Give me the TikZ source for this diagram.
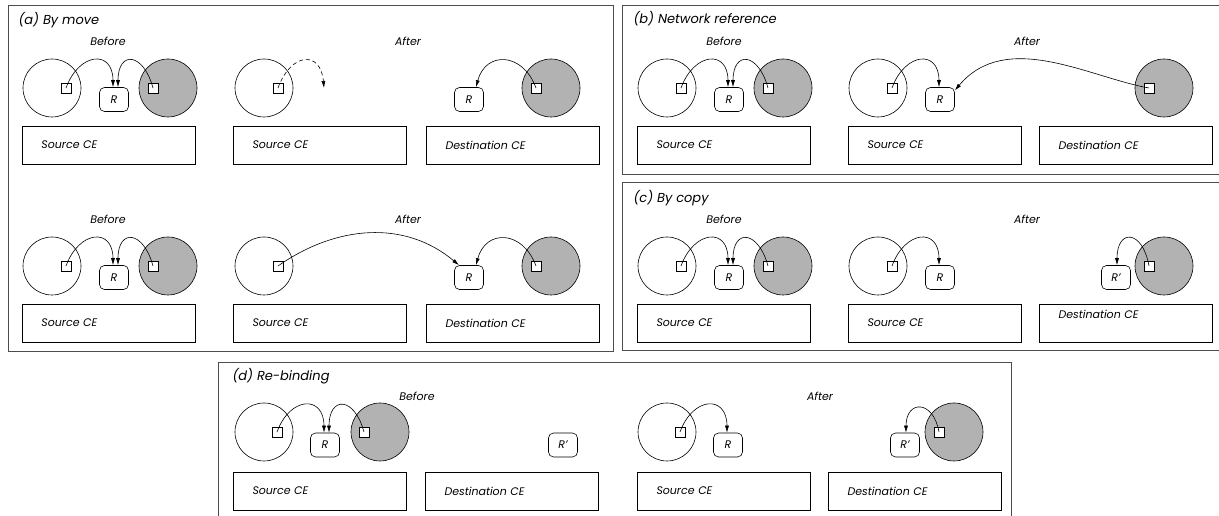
\documentclass[tikz,border=0pt]{standalone}
\usepackage{fontspec}
\setmainfont{Poppins}
\usepackage{tikz}
\usetikzlibrary{shapes,positioning,arrows.meta}

\tikzset{
  ce/.style={circle,draw,line width=0.6pt,minimum size=58pt,inner sep=0pt},
  ceg/.style={ce,fill=black!30},
  port/.style={rectangle,draw,fill=white,line width=0.6pt,minimum size=10pt,inner sep=0pt},
  res/.style={rectangle,rounded corners=5pt,draw,line width=0.6pt,minimum width=29pt,minimum height=24pt,inner sep=0pt},
  cebox/.style={rectangle,draw,line width=0.6pt,text width=135pt,inner xsep=19pt,minimum height=38pt,align=left},
  frame/.style={draw=black!70,line width=0.8pt},
  ref/.style={-{Latex[length=7pt,width=4pt]},line width=0.6pt},
  title/.style={anchor=west,font=\itshape\fontsize{13}{15}\selectfont},
}

\begin{document}
\begin{tikzpicture}[x=1pt,y=1pt,on grid,node distance=14pt,
  every node/.style={font=\itshape\fontsize{11}{13}\selectfont}]
\useasboundingbox (0,0) rectangle (1219,516);

% (a) by move
\draw[frame] (8,165) rectangle (613,511);
\node[title] (ta) at (15,496) {(a) By move};
% first row, before
\node[ce] (a1s) at (52,428) {};
\node[port,right=of a1s] (a1sp) {};
\node[res,below right=11.5pt and 62pt of a1s] (a1r) {R};
\node[ceg,right=116pt of a1s] (a1d) {};
\node[port,left=15pt of a1d] (a1dp) {};
\node[cebox,below right=57pt and 57pt of a1s] (a1b) {Source CE};
\node[above right=47pt and 56pt of a1s] (a1l) {Before};
% first row, after
\node[ce] (a2s) at (264,428) {};
\node[port,right=of a2s] (a2sp) {};
\coordinate[right=60pt of a2s] (a2x);
\node[cebox,below right=57pt and 56pt of a2s] (a2b) {Source CE};
\node[ceg] (a2d) at (551,428) {};
\node[port,left=15pt of a2d] (a2dp) {};
\node[res,below left=11.5pt and 82pt of a2d] (a2r) {R};
\node[cebox,below left=57pt and 38pt of a2d] (a2c) {Destination CE};
\node[above right=47pt and 144pt of a2s] (a2l) {After};
% second row, before
\node[ce] (a3s) at (52,250) {};
\node[port,right=of a3s] (a3sp) {};
\node[res,below right=11.5pt and 62pt of a3s] (a3r) {R};
\node[ceg,right=116pt of a3s] (a3d) {};
\node[port,left=15pt of a3d] (a3dp) {};
\node[cebox,below right=57pt and 57pt of a3s] (a3b) {Source CE};
\node[above right=47pt and 56pt of a3s] (a3l) {Before};
% second row, after
\node[ce] (a4s) at (264,250) {};
\node[port,right=of a4s] (a4sp) {};
\node[cebox,below right=57pt and 56pt of a4s] (a4b) {Source CE};
\node[ceg] (a4d) at (551,250) {};
\node[port,left=15pt of a4d] (a4dp) {};
\node[res,below left=11.5pt and 82pt of a4d] (a4r) {R};
\node[cebox,below left=57pt and 38pt of a4d] (a4c) {Destination CE};
\node[above right=47pt and 144pt of a4s] (a4l) {After};

\draw[ref] (a1sp.center) to[out=70,in=90,distance=38pt] ([xshift=-1pt]a1r.north);
\draw[ref] (a1dp.center) to[out=105,in=90,distance=37pt] ([xshift=4pt]a1r.north);
\draw[ref,dash pattern=on 4pt off 3pt] (a2sp.center) to[out=70,in=95,distance=38pt] (a2x);
\draw[ref] (a2dp.center) to[out=110,in=75,distance=38pt] ([xshift=7pt]a2r.north);
\draw[ref] (a3sp.center) to[out=70,in=90,distance=38pt] ([xshift=-1pt]a3r.north);
\draw[ref] (a3dp.center) to[out=105,in=90,distance=37pt] ([xshift=4pt]a3r.north);
\draw[ref] (a4sp.center) to[out=35,in=140,distance=71pt] ([xshift=-10pt]a4r.north);
\draw[ref] (a4dp.center) to[out=110,in=75,distance=38pt] ([xshift=7pt]a4r.north);

% (b) network reference
\draw[frame] (622,342) rectangle (1230,511);
\node[title] (tb) at (630,497) {(b) Network reference};
\node[ce] (b1s) at (667,428) {};
\node[port,right=of b1s] (b1sp) {};
\node[res,below right=11.5pt and 62pt of b1s] (b1r) {R};
\node[ceg,right=116pt of b1s] (b1d) {};
\node[port,left=15pt of b1d] (b1dp) {};
\node[cebox,below right=57pt and 57pt of b1s] (b1b) {Source CE};
\node[above right=47pt and 57pt of b1s] (b1l) {Before};
\node[ce] (b2s) at (878,428) {};
\node[port,right=of b2s] (b2sp) {};
\node[res,below right=11.5pt and 62pt of b2s] (b2r) {R};
\node[cebox,below right=57pt and 57pt of b2s] (b2b) {Source CE};
\node[ceg] (b2d) at (1164,428) {};
\node[port,left=15pt of b2d] (b2dp) {};
\node[cebox,below left=57pt and 38pt of b2d] (b2c) {Destination CE};
\node[above right=47pt and 149pt of b2s] (b2l) {After};

\draw[ref] (b1sp.center) to[out=70,in=90,distance=38pt] ([xshift=-1pt]b1r.north);
\draw[ref] (b1dp.center) to[out=105,in=90,distance=37pt] ([xshift=4pt]b1r.north);
\draw[ref] (b2sp.center) to[out=70,in=90,distance=38pt] ([xshift=-1pt]b2r.north);
\draw[ref] (b2dp.center) to[out=170,in=50,out distance=60pt,in distance=80pt] ([yshift=9pt]b2r.east);

% (c) by copy
\draw[frame] (622,166) rectangle (1230,334);
\node[title] (tc) at (630,318) {(c) By copy};
\node[ce] (c1s) at (667,250) {};
\node[port,right=of c1s] (c1sp) {};
\node[res,below right=11.5pt and 62pt of c1s] (c1r) {R};
\node[ceg,right=116pt of c1s] (c1d) {};
\node[port,left=15pt of c1d] (c1dp) {};
\node[cebox,below right=57pt and 57pt of c1s] (c1b) {Source CE};
\node[above right=47pt and 57pt of c1s] (c1l) {Before};
\node[ce] (c2s) at (878,250) {};
\node[port,right=of c2s] (c2sp) {};
\node[res,below right=11.5pt and 62pt of c2s] (c2r) {R};
\node[cebox,below right=57pt and 57pt of c2s] (c2b) {Source CE};
\node[ceg] (c2d) at (1164,250) {};
\node[port,left=15pt of c2d] (c2dp) {};
\node[res,below left=11.5pt and 48pt of c2d] (c2q) {R'};
\node[cebox,below left=57pt and 38pt of c2d] (c2c) {\raisebox{4pt}[0pt][0pt]{Destination CE}};
\node[above right=47pt and 149pt of c2s] (c2l) {After};

\draw[ref] (c1sp.center) to[out=70,in=90,distance=38pt] ([xshift=-1pt]c1r.north);
\draw[ref] (c1dp.center) to[out=105,in=90,distance=37pt] ([xshift=4pt]c1r.north);
\draw[ref] (c2sp.center) to[out=70,in=90,distance=38pt] ([xshift=-1pt]c2r.north);
\draw[ref] (c2dp.center) to[out=100,in=90,distance=37pt] ([xshift=1pt]c2q.north);

% (d) re-binding
\draw[frame] (218,-14) rectangle (1011,154);
\node[title] (td) at (229,140) {(d) Re-binding};
\node[ce] (d1s) at (264,84) {};
\node[port,right=13pt of d1s] (d1sp) {};
\node[res,below right=13pt and 61pt of d1s] (d1r) {R};
\node[ceg,right=116pt of d1s] (d1d) {};
\node[port,left=16pt of d1d] (d1dp) {};
\node[res,right=238pt of d1r] (d1q) {R'};
\node[cebox,below right=59pt and 56pt of d1s] (d1b) {Source CE};
\node[cebox,below right=59pt and 248pt of d1s] (d1c) {Destination CE};
\node[above right=36pt and 153pt of d1s] (d1l) {Before};
\node[ce] (d2s) at (667,84) {};
\node[port,right=13pt of d2s] (d2sp) {};
\node[res,below right=13pt and 61pt of d2s] (d2r) {R};
\node[cebox,below right=59pt and 57pt of d2s] (d2b) {Source CE};
\node[ceg] (d2d) at (954,84) {};
\node[port,left=15pt of d2d] (d2dp) {};
\node[res,below left=13pt and 49pt of d2d] (d2q) {R'};
\node[cebox,below left=59pt and 39pt of d2d] (d2c) {Destination CE};
\node[above right=36pt and 153pt of d2s] (d2l) {After};

\draw[ref] (d1sp.center) to[out=70,in=90,distance=38pt] ([xshift=-1pt]d1r.north);
\draw[ref] (d1dp.center) to[out=105,in=90,distance=37pt] ([xshift=4pt]d1r.north);
\draw[ref] (d2sp.center) to[out=70,in=90,distance=38pt] ([xshift=-1pt]d2r.north);
\draw[ref] (d2dp.center) to[out=100,in=90,distance=33pt] ([xshift=1pt]d2q.north);
\end{tikzpicture}
\end{document}
